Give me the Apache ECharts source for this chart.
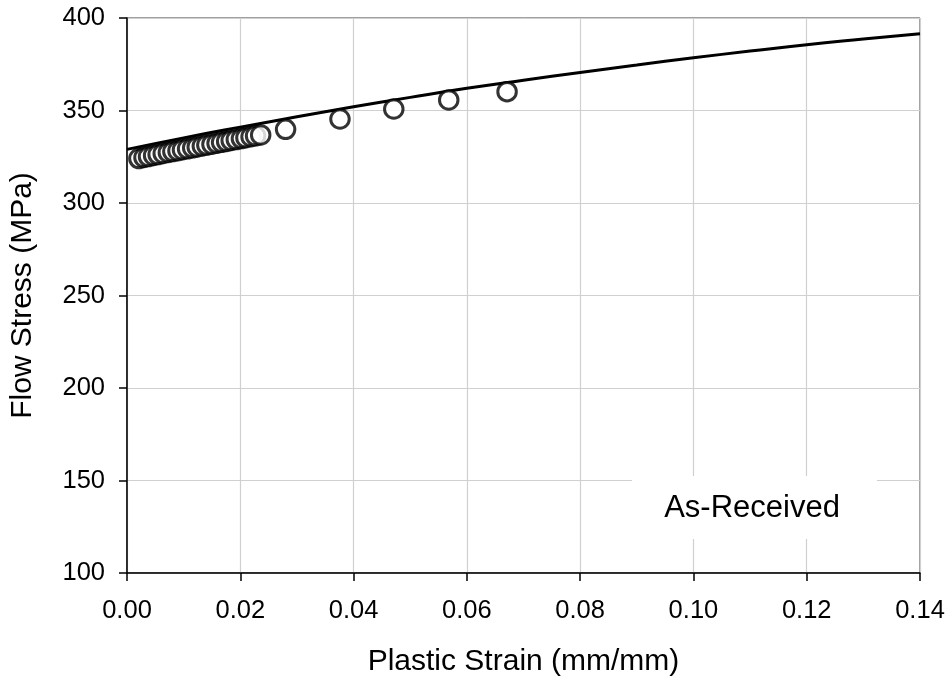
<!DOCTYPE html>
<html>
<head>
<meta charset="utf-8">
<script src="https://cdn.jsdelivr.net/npm/echarts@6/dist/echarts.min.js"></script>
<style>
  html, body { margin: 0; padding: 0; background: #fff; }
  #chart { width: 952px; height: 683px; }
</style>
</head>
<body>
<div id="chart"></div>
<script>
// Measured flow stress vs plastic strain (as-received material)
const testStrain = [
  0.0021, 0.0030, 0.0038, 0.0047, 0.0055, 0.0064, 0.0073, 0.0081, 0.0090, 0.0098,
  0.0107, 0.0116, 0.0124, 0.0133, 0.0141, 0.0150, 0.0159, 0.0167, 0.0176, 0.0184,
  0.0193, 0.0202, 0.0210, 0.0219, 0.0227, 0.0236,
  0.0280, 0.0376, 0.0471, 0.0568, 0.0671
];
const testStress = [
  324.0, 324.6, 325.1, 325.7, 326.2, 326.8, 327.3, 327.8, 328.3, 328.8,
  329.3, 329.8, 330.3, 330.8, 331.3, 331.8, 332.3, 332.8, 333.3, 333.8,
  334.3, 334.8, 335.3, 335.8, 336.3, 336.8,
  339.8, 345.4, 350.8, 355.7, 360.2
];

// Fitted hardening curve
const fitStrain = [0.00, 0.01, 0.02, 0.03, 0.04, 0.05, 0.06, 0.07, 0.08, 0.09, 0.10, 0.11, 0.12, 0.13, 0.14];
const fitStress = [329.0, 335.2, 341.0, 346.6, 352.0, 357.1, 362.0, 366.4, 370.6, 374.6, 378.5, 382.1, 385.6, 388.6, 391.5];

const xTicks = { min: 0, max: 0.14, step: 0.02 };
const yTicks = { min: 100, max: 400, step: 50 };
const caseLabel = 'As-Received';

const chart = echarts.init(document.getElementById('chart'), null, { renderer: 'canvas' });
const font = 'Liberation Sans, Arial, sans-serif';

chart.setOption({
  animation: false,
  backgroundColor: '#fff',
  grid: {
    left: 126, right: 32, top: 18, bottom: 110,
    show: true, borderColor: '#404040', borderWidth: 1, backgroundColor: 'transparent'
  },
  xAxis: {
    type: 'value',
    min: xTicks.min, max: xTicks.max, interval: xTicks.step,
    name: 'Plastic Strain (mm/mm)',
    nameLocation: 'middle',
    nameGap: 74,
    nameTextStyle: { fontFamily: font, fontSize: 30, color: '#000' },
    axisLine: { show: true, onZero: false, lineStyle: { color: '#000', width: 1.5 } },
    axisTick: { show: true, inside: false, length: 8, lineStyle: { color: '#000', width: 1.5 } },
    axisLabel: {
      fontFamily: font, fontSize: 25.5, color: '#000', margin: 25,
      formatter: v => v.toFixed(2)
    },
    splitLine: { show: true, lineStyle: { color: '#d0d0d0', width: 1.2 } }
  },
  yAxis: {
    type: 'value',
    min: yTicks.min, max: yTicks.max, interval: yTicks.step,
    name: 'Flow Stress (MPa)',
    nameLocation: 'middle',
    nameGap: 89,
    nameTextStyle: { fontFamily: font, fontSize: 30, color: '#000' },
    axisLine: { show: true, onZero: false, lineStyle: { color: '#000', width: 1.5 } },
    axisTick: { show: true, inside: false, length: 8, lineStyle: { color: '#000', width: 1.5 } },
    axisLabel: { fontFamily: font, fontSize: 25.5, color: '#000', margin: 22 },
    splitLine: { show: true, lineStyle: { color: '#d0d0d0', width: 1.2 } }
  },
  graphic: [
    {
      type: 'rect', z: 50,
      shape: { x: 632, y: 476, width: 245, height: 63 },
      style: { fill: '#fff' }
    },
    {
      type: 'text', z: 51,
      x: 752, y: 508,
      style: {
        text: caseLabel, fontFamily: font, fontSize: 31, fill: '#000',
        align: 'center', verticalAlign: 'middle'
      }
    }
  ],
  series: [
    {
      type: 'line',
      data: fitStrain.map((x, i) => [x, fitStress[i]]),
      smooth: true,
      showSymbol: false,
      lineStyle: { color: '#000', width: 3 },
      z: 3
    },
    {
      type: 'scatter',
      data: testStrain.map((x, i) => [x, testStress[i]]),
      symbol: 'circle',
      symbolSize: 18.5,
      itemStyle: { color: '#fff', borderColor: '#000', borderWidth: 3 },
      z: 4
    }
  ]
});
</script>
</body>
</html>
